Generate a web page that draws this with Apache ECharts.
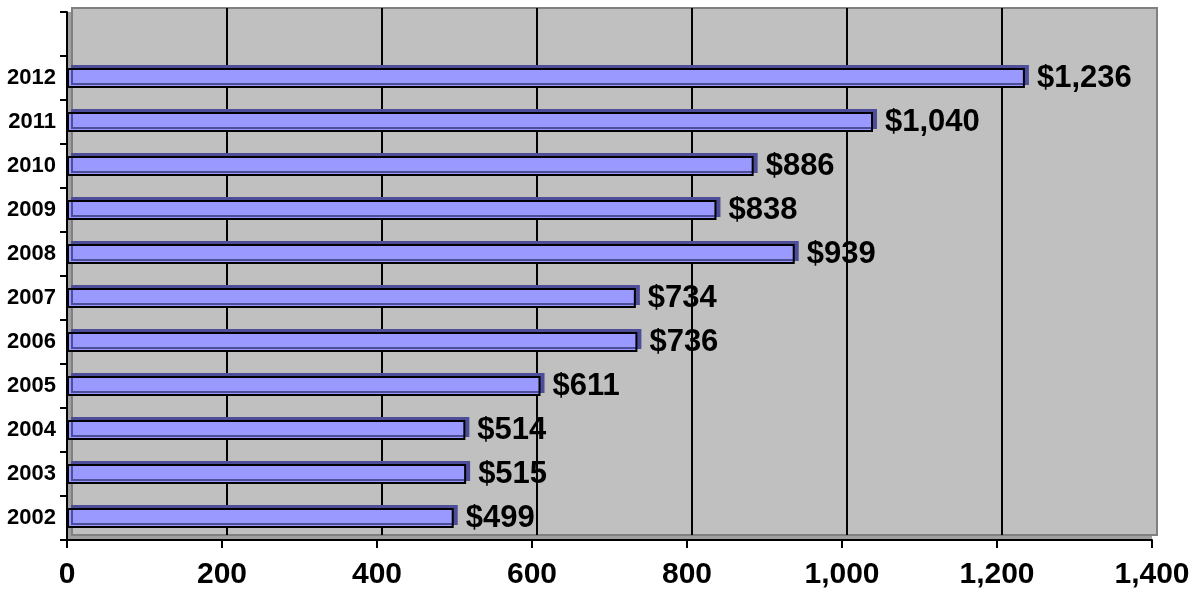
<!DOCTYPE html>
<html>
<head>
<meta charset="utf-8">
<script src="https://cdn.jsdelivr.net/npm/echarts@6/dist/echarts.min.js"></script>
<style>
html,body{margin:0;padding:0;background:#fff;}
#chart{width:1200px;height:593px;}
</style>
</head>
<body>
<div id="chart"></div>
<script>
const years = ['2002','2003','2004','2005','2006','2007','2008','2009','2010','2011','2012'];
const values = [499, 515, 514, 611, 736, 734, 939, 838, 886, 1040, 1236];
const xTicks = [0, 200, 400, 600, 800, 1000, 1200, 1400];

const categories = years.concat(['']);
const seriesData = values.concat([null]);
const fmt = v => String(v).replace(/\B(?=(\d{3})+(?!\d))/g, ',');
const FONT = '"Liberation Sans", Arial, sans-serif';

const chart = echarts.init(document.getElementById('chart'));
chart.setOption({
  animation: false,
  backgroundColor: '#ffffff',
  grid: [
    { left: 67, right: 48, top: 12, bottom: 53, show: true, backgroundColor: '#a0a0a0', borderWidth: 0 },
    { left: 72, right: 43, top: 8, bottom: 58, show: true, backgroundColor: '#c0c0c0', borderColor: '#808080', borderWidth: 2 }
  ],
  xAxis: [
    {
      gridIndex: 0, type: 'value', min: xTicks[0], max: xTicks[xTicks.length-1], interval: 200,
      axisLine: { show: true, lineStyle: { color: '#000', width: 2 } },
      axisTick: { show: true, length: 8, lineStyle: { color: '#000', width: 2 } },
      splitLine: { show: false },
      axisLabel: { fontFamily: FONT, fontWeight: 'bold', fontSize: 30, color: '#000', margin: 20, formatter: v => fmt(v) }
    },
    {
      gridIndex: 1, type: 'value', min: xTicks[0], max: xTicks[xTicks.length-1], interval: 200,
      axisLine: { show: false }, axisTick: { show: false }, axisLabel: { show: false },
      splitLine: { show: true, lineStyle: { width: 2, color: ['#808080','#000','#000','#000','#000','#000','#000','#808080'] } }
    }
  ],
  yAxis: [
    {
      gridIndex: 0, type: 'category', data: categories, boundaryGap: true,
      axisLine: { show: true, lineStyle: { color: '#000', width: 2 } },
      axisTick: { show: true, length: 7, interval: 0, lineStyle: { color: '#000', width: 2 } },
      axisLabel: { fontFamily: FONT, fontWeight: 'bold', fontSize: 22, color: '#000', margin: 11, interval: 0 },
      splitLine: { show: false }
    },
    {
      gridIndex: 1, type: 'category', data: categories, show: false
    }
  ],
  series: [{
    type: 'bar',
    xAxisIndex: 0, yAxisIndex: 0,
    data: seriesData,
    barWidth: 20,
    itemStyle: {
      color: '#9999ff', borderColor: '#000', borderWidth: 2,
      shadowColor: '#4d4d99', shadowOffsetX: 4, shadowOffsetY: -3, shadowBlur: 0
    },
    label: {
      show: true, position: 'right', distance: 12,
      fontFamily: FONT, fontWeight: 'bold', fontSize: 31, color: '#000',
      formatter: p => '$' + fmt(p.value)
    }
  }]
});
</script>
</body>
</html>
